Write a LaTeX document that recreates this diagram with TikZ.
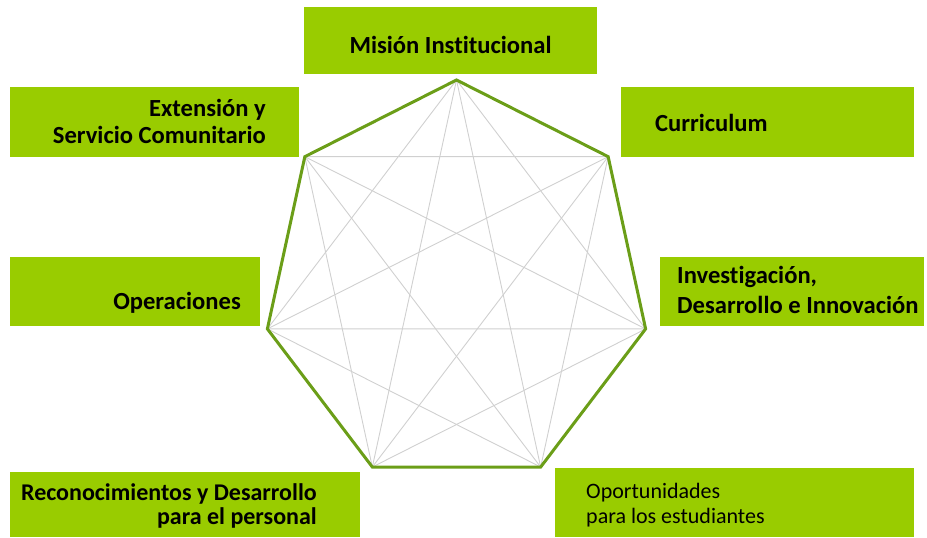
\documentclass[tikz,border=0pt]{standalone}
\usepackage{fontspec}
\setmainfont[Ligatures={NoCommon}]{Carlito}
\usetikzlibrary{calc}
\definecolor{boxgreen}{RGB}{153,204,0}
\definecolor{rimgreen}{RGB}{107,158,24}
\definecolor{diaggray}{RGB}{208,208,208}
\tikzset{
   greenbox/.style={fill=boxgreen, draw=none, inner sep=0pt, anchor=north west},
   boxtext/.style={font=\bfseries\fontsize{24.6}{27}\selectfont, inner sep=0pt, text=black},
   widetext/.style={font=\bfseries\fontsize{24.6}{30}\selectfont, inner sep=0pt, text=black},
   smalltext/.style={font=\bfseries\fontsize{24}{24}\selectfont, inner sep=0pt, text=black},
   lighttext/.style={font=\fontsize{22}{25}\selectfont, inner sep=0pt, text=black},
   diag/.style={draw=diaggray, line width=0.9pt},
   rim/.style={draw=rimgreen, line width=3pt, line join=miter}
}

\begin{document}
\begin{tikzpicture}[x=1pt,y=-1pt]
\useasboundingbox (0,0) rectangle (927,538);
\node[greenbox, minimum width=293, minimum height=67] (mision) at (304,7) {};
\node[greenbox, minimum width=289, minimum height=70] (extension) at (10,87) {};
\node[greenbox, minimum width=293, minimum height=70] (curriculum) at (621,87) {};
\node[greenbox, minimum width=250, minimum height=69] (operaciones) at (10,257) {};
\node[greenbox, minimum width=264, minimum height=69] (investigacion) at (660,257) {};
\node[greenbox, minimum width=350, minimum height=65] (reconocimientos) at (10,472) {};
\node[greenbox, minimum width=359, minimum height=69] (oportunidades) at (555,468) {};
\node[boxtext, anchor=base] (misiontext) at (450.5,53) {Misión Institucional};
\node[boxtext, align=right, anchor=base east] (extensiontext) at (266,143) {Extensión y\\Servicio Comunitario};
\node[boxtext, anchor=base west] (curriculumtext) at (655,131) {Curriculum};
\node[boxtext, anchor=base east] (operacionestext) at (241,309) {Operaciones};
\node[widetext, align=left, anchor=base west] (investigaciontext) at (677,313) {Investigación,\\Desarrollo e Innovación};
\node[smalltext, align=right, anchor=base east] (reconocimientostext) at (317,524) {Reconocimientos y Desarrollo\\para el personal};
\node[lighttext, align=left, anchor=base west] (oportunidadestext) at (586,523) {Oportunidades\\para los estudiantes};
\foreach \i in {0,...,6}
   \coordinate (v\i) at ({456.5+194*cos(90+\i*360/7)},{283.6-203.6*sin(90+\i*360/7)});
\foreach \i in {0,...,5}{
   \pgfmathtruncatemacro\k{\i+1}
   \foreach \j in {\k,...,6}
      \draw[diag] (v\i) -- (v\j);
}
\draw[rim] (v0) -- (v1) -- (v2) -- (v3) -- (v4) -- (v5) -- (v6) -- cycle;
\end{tikzpicture}
\end{document}
